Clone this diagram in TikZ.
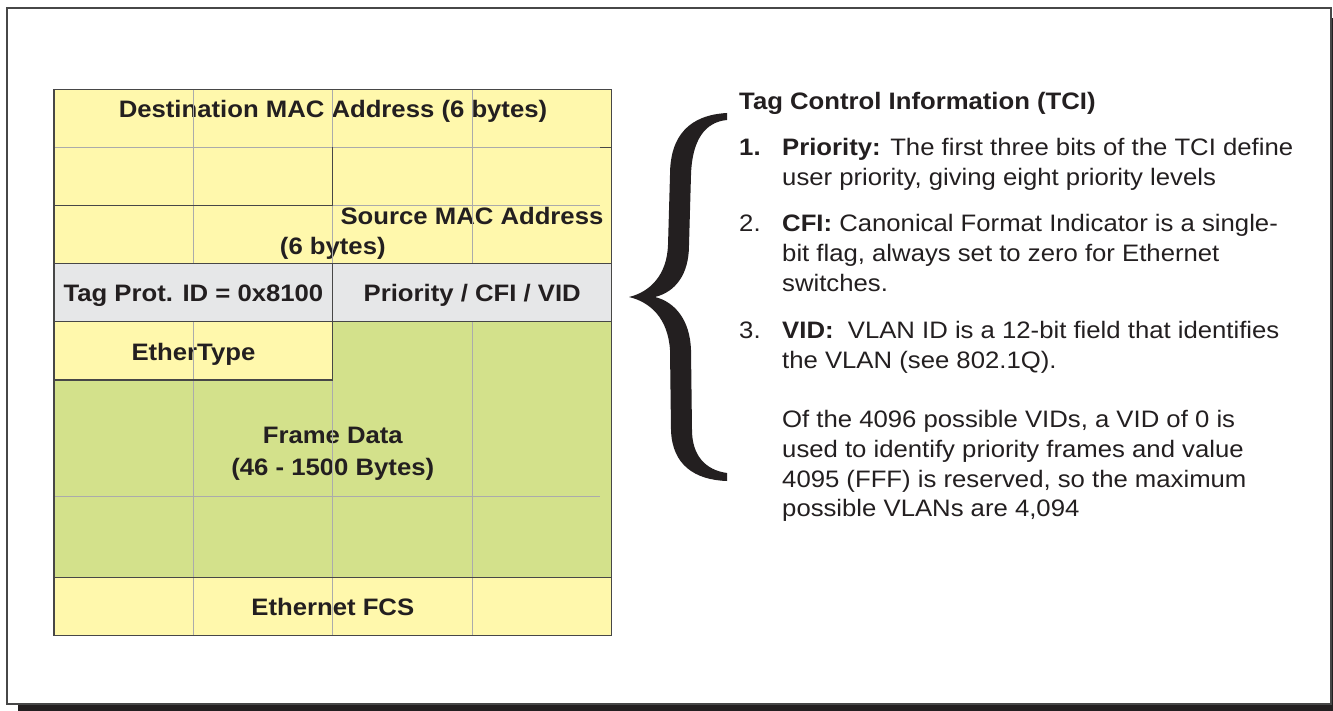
\documentclass[tikz,border=0pt]{standalone}
\usepackage{fontspec}
\setmainfont{Liberation Sans}[FakeStretch=1.08]
\usetikzlibrary{positioning, calc}

\definecolor{fieldyellow}{HTML}{FFF8AC}
\definecolor{datagreen}{HTML}{D3E18B}
\definecolor{taggray}{HTML}{E6E7E8}
\definecolor{ink}{HTML}{231F20}
\definecolor{gridgray}{HTML}{ABABAB}
\definecolor{edgegray}{HTML}{474747}

\newcommand{\figfont}{\fontsize{23.8}{29.7}\selectfont}

\tikzset{
  lbl/.style={inner sep=0pt, anchor=base, text=ink, font=\figfont\bfseries},
  txt/.style={inner sep=0pt, anchor=base west, text=ink, font=\figfont},
  gridline/.style={gridgray, line width=0.9pt},
  border/.style={edgegray, line width=1.3pt},
}

\begin{document}
\begin{tikzpicture}[x=1pt, y=-1pt]
	\useasboundingbox (0,0) rectangle (1333,711);
	% frame with shadow
	\fill[ink] (18,18) rectangle (1345,720);
	\draw[fill=white, draw=edgegray, line width=1.2pt] (7,8) rectangle (1331,704);

	% frame fields
	\fill[fieldyellow] (54,89.3) rectangle (611.6,263.3);
	\fill[fieldyellow] (54,321.7) rectangle (332.8,380);
	\fill[datagreen] (332.8,321.7) rectangle (611.6,380);
	\fill[datagreen] (54,380) rectangle (611.6,577.7);
	\fill[fieldyellow] (54,577.7) rectangle (611.6,635.3);

	\node[lbl] (dst) at (333,117.3) {Destination MAC Address (6 bytes)};
	\node[lbl] (src) at (472,225) {Source MAC Address};
	\node[lbl] (srcb) at (332.8,255) {(6 bytes)};
	\node[lbl] (etype) at (193.4,360.7) {EtherType};
	\node[lbl] (data) at (332.8,443.3) {Frame Data};
	\node[lbl] (datab) at (332.8,475) {(46 - 1500 Bytes)};
	\node[lbl] (fcs) at (332.8,615) {Ethernet FCS};

	% grid
	\foreach \x in {193.4, 332.8, 472.2}
		\draw[gridline] (\x,89.3) -- (\x,635.3);
	\draw[gridline] (54,147.3) -- (600,147.3);
	\draw[gridline] (332.8,205.7) -- (600,205.7);
	\draw[gridline] (54,496) -- (600,496);

	% tag row
	\fill[taggray] (54,263.3) rectangle (611.6,321.7);
	\node[lbl] (tpid) at (193.4,301.7) {Tag Prot. ID = 0x8100};
	\node[lbl] (tci) at (472.2,301.7) {Priority / CFI / VID};

	\draw[border] (54,89.3) rectangle (611.6,635.3);
	\draw[border] (600,147.3) -- (611.6,147.3);
	\draw[border] (332.8,147.3) -- (332.8,205.7) -- (54,205.7);
	\draw[border] (54,263.3) -- (611.6,263.3);
	\draw[border] (54,321.7) -- (611.6,321.7);
	\draw[border] (332.8,263.3) -- (332.8,380) -- (54,380);
	\draw[border] (54,577.7) -- (611.6,577.7);

	% brace
	\fill[ink] (727,113) .. controls (690,115) and (670,135) .. (670,175) -- (668,245)
		.. controls (667,275) and (650,292) .. (629,297)
		.. controls (650,302) and (668,318) .. (670,350) -- (671,430)
		.. controls (672,465) and (695,480) .. (727,481) -- (727,473)
		.. controls (705,470) and (692,455) .. (692,430) -- (691,350)
		.. controls (690,320) and (675,302) .. (655,297)
		.. controls (675,292) and (689,275) .. (689,245) -- (691,175)
		.. controls (692,140) and (705,122) .. (727,120) -- cycle;

	% TCI notes
	\node[txt] (title) at (739,110) {\bfseries Tag Control Information (TCI)};
	\node[txt] (n1) at (739,156) {\bfseries 1.};
	\node[txt] (p1a) at (782,156) {\textbf{Priority:} The first three bits of the TCI define};
	\node[txt] (p1b) at (782,186) {user priority, giving eight priority levels};
	\node[txt] (n2) at (739,231.7) {2.};
	\node[txt] (p2a) at (782,231.7) {\textbf{CFI:} Canonical Format Indicator is a single-};
	\node[txt] (p2b) at (782,261.4) {bit flag, always set to zero for Ethernet};
	\node[txt] (p2c) at (782,291.1) {switches.};
	\node[txt] (n3) at (739,338.3) {3.};
	\node[txt] (p3a) at (782,338.3) {\textbf{VID:}\ \ VLAN ID is a 12-bit field that identifies};
	\node[txt] (p3b) at (782,368) {the VLAN (see 802.1Q).};
	\node[txt] (p3c) at (782,427.7) {Of the 4096 possible VIDs, a VID of 0 is};
	\node[txt] (p3d) at (782,457.3) {used to identify priority frames and value};
	\node[txt] (p3e) at (782,487) {4095 (FFF) is reserved, so the maximum};
	\node[txt] (p3f) at (782,516.7) {possible VLANs are 4,094};
\end{tikzpicture}
\end{document}
